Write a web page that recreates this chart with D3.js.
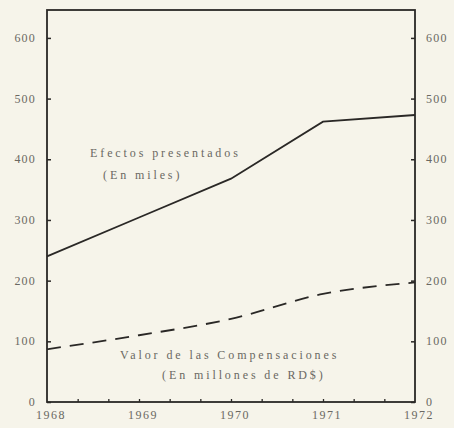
<!DOCTYPE html>
<html>
<head>
<meta charset="utf-8">
<script src="https://cdn.jsdelivr.net/npm/d3@7"></script>
<style>
    body { margin: 0; background: #f6f4ea; }
    svg { display: block; }
    text { font-family: "Liberation Serif", "DejaVu Serif", serif; fill: #6a6862; }
</style>
</head>
<body>
<svg width="454" height="428"></svg>
<script>
const years = [1968, 1969, 1970, 1971, 1972];
const efectos = [240, 304, 368, 462, 473];          // Efectos presentados (miles)
const compensaciones = [87, 110, 137, 178, 197];    // Valor de las compensaciones (millones RD$)
const yTicks = [0, 100, 200, 300, 400, 500, 600];

const svg = d3.select("svg");
const plot = { left: 47, right: 415, top: 10, bottom: 402 };

const xScale = d3.scaleLinear().domain([1968, 1972]).range([plot.left, plot.right]);
const yScale = d3.scaleLinear().domain([0, 646]).range([plot.bottom, plot.top]);

const ink = "#2a2826";

// frame
svg.append("rect")
    .attr("x", plot.left).attr("y", plot.top)
    .attr("width", plot.right - plot.left).attr("height", plot.bottom - plot.top)
    .attr("fill", "none")
    .attr("stroke", ink)
    .attr("stroke-width", 1.8);

// left axis, ticks inward
const yAxisLeft = svg.append("g")
    .attr("transform", `translate(${plot.left},0)`)
    .call(d3.axisRight(yScale).tickValues(yTicks).tickSize(4).tickFormat(""));
yAxisLeft.select(".domain").remove();
yAxisLeft.selectAll("line").attr("stroke", ink).attr("stroke-width", 1.5);

svg.append("g").selectAll("text")
    .data(yTicks)
    .join("text")
    .attr("x", plot.left - 11)
    .attr("y", d => yScale(d) + 4)
    .attr("text-anchor", "end")
    .attr("font-size", 12)
    .attr("letter-spacing", 1.2)
    .text(d => d);

// right axis, ticks inward
const yAxisRight = svg.append("g")
    .attr("transform", `translate(${plot.right},0)`)
    .call(d3.axisLeft(yScale).tickValues(yTicks).tickSize(4).tickFormat(""));
yAxisRight.select(".domain").remove();
yAxisRight.selectAll("line").attr("stroke", ink).attr("stroke-width", 1.5);

svg.append("g").selectAll("text")
    .data(yTicks)
    .join("text")
    .attr("x", plot.right + 11)
    .attr("y", d => yScale(d) + 4)
    .attr("text-anchor", "start")
    .attr("font-size", 12)
    .attr("letter-spacing", 1.2)
    .text(d => d);

// bottom axis: minor ticks every third of a year
const minorTicks = d3.range(1, 12).map(i => 1968 + i / 3);
const xAxis = svg.append("g")
    .attr("transform", `translate(0,${plot.bottom})`)
    .call(d3.axisTop(xScale).tickValues(minorTicks).tickSize(3).tickFormat(""));
xAxis.select(".domain").remove();
xAxis.selectAll("line").attr("stroke", ink).attr("stroke-width", 1.3);

svg.append("g").selectAll("text")
    .data(years)
    .join("text")
    .attr("x", d => xScale(d) + 4)
    .attr("y", 419)
    .attr("text-anchor", "middle")
    .attr("font-size", 12)
    .attr("letter-spacing", 1.5)
    .text(d => d);

// series
const lineEfectos = d3.line()
    .x((d, i) => xScale(years[i]))
    .y(d => yScale(d));

const lineComp = d3.line()
    .x((d, i) => xScale(years[i]))
    .y(d => yScale(d))
    .curve(d3.curveMonotoneX);

svg.append("path")
    .datum(efectos)
    .attr("d", lineEfectos)
    .attr("fill", "none")
    .attr("stroke", ink)
    .attr("stroke-width", 1.8);

svg.append("path")
    .datum(compensaciones)
    .attr("d", lineComp)
    .attr("fill", "none")
    .attr("stroke", ink)
    .attr("stroke-width", 1.8)
    .attr("stroke-dasharray", "14,9");

// annotations
const notes = [
    { text: "Efectos presentados", x: 90, y: 157 },
    { text: "(En miles)", x: 103, y: 179 },
    { text: "Valor de las Compensaciones", x: 120, y: 359 },
    { text: "(En millones de RD$)", x: 162, y: 379 }
];

svg.append("g").selectAll("text")
    .data(notes)
    .join("text")
    .attr("x", d => d.x)
    .attr("y", d => d.y)
    .attr("font-size", 12)
    .attr("letter-spacing", 2.9)
    .attr("fill", "#3e3c38")
    .text(d => d.text);
</script>
</body>
</html>
